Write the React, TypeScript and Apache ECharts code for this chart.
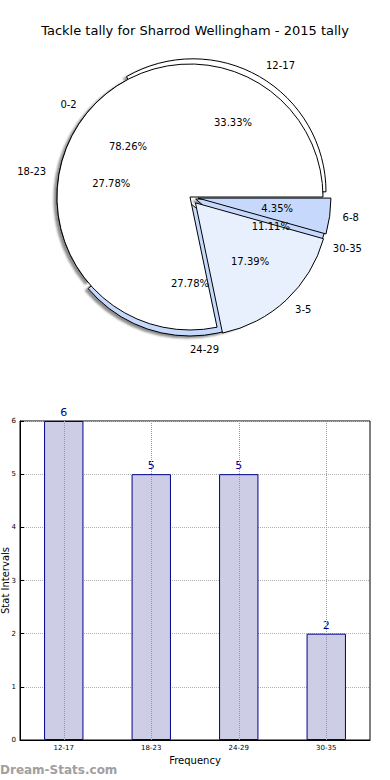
import React, { useEffect, useRef } from "react";
import * as echarts from "echarts";

const titleText = "Tackle tally for Sharrod Wellingham - 2015 tally";
const tallyCategories = ["12-17", "18-23", "24-29", "30-35"];
const tallyValues = [6, 5, 5, 2];
const tallyColors = ["#ffffff", "#ffffff", "#c6d9fd", "#c6d9fd"];
const tallyExploded = [true, false, true, true];
const lowCategories = ["0-2", "3-5", "6-8"];
const lowValues = [18, 4, 1];
const lowColors = ["#ffffff", "#e9f0fd", "#c6d9fd"];
const lowExploded = [false, true, true];
const yTicks = [0, 1, 2, 3, 4, 5, 6];

const FONT = "DejaVu Sans";
const R = 133;
const CENTER = [190, 197];

function pieData(cats: string[], vals: number[], colors: string[], sel: boolean[], visible: boolean) {
  return cats.map((c, i) => ({
    name: c,
    value: vals[i],
    selected: sel[i],
    itemStyle: visible
      ? { color: colors[i], borderColor: "#000", borderWidth: 1 }
      : { color: "transparent", borderWidth: 0 },
    select: {
      itemStyle: visible
        ? { color: colors[i], borderColor: "#000", borderWidth: 1 }
        : { color: "transparent", borderWidth: 0 },
    },
  }));
}

// matplotlib puts a wedge's name left-aligned when the wedge midpoint is on the right (x >= 0)
function alignFor(vals: number[]) {
  const total = vals.reduce((a, b) => a + b, 0);
  let cum = 0;
  return vals.map((v) => {
    const mid = ((cum + v / 2) / total) * Math.PI * 2;
    cum += v;
    return Math.cos(mid) > -1e-6 ? "left" : "right";
  });
}

function visiblePie(id: string, cats: string[], vals: number[], colors: string[], sel: boolean[], offset: number, z: number, shadow: boolean) {
  return {
    id,
    type: "pie",
    center: CENTER,
    radius: [0, R],
    startAngle: 0,
    clockwise: false,
    z,
    selectedMode: "multiple",
    selectedOffset: offset,
    avoidLabelOverlap: false,
    label: { show: false },
    labelLine: { show: false },
    emphasis: { disabled: true },
    itemStyle: shadow
      ? {
          borderColor: "#000",
          borderWidth: 1,
          shadowColor: "rgba(0,0,0,0.45)",
          shadowBlur: 2,
          shadowOffsetX: -3,
          shadowOffsetY: 2,
        }
      : { borderColor: "#000", borderWidth: 1 },
    data: pieData(cats, vals, colors, sel, true),
  };
}

function namePie(id: string, cats: string[], vals: number[], sel: boolean[], offset: number) {
  const aligns = alignFor(vals);
  return {
    id,
    type: "pie",
    center: CENTER,
    radius: [0, R],
    startAngle: 0,
    clockwise: false,
    z: 5,
    silent: true,
    selectedMode: "multiple",
    selectedOffset: offset,
    avoidLabelOverlap: false,
    emphasis: { disabled: true },
    label: {
      show: true,
      position: "outside",
      formatter: "{b}",
      color: "#000",
      fontFamily: FONT,
      fontSize: 10,
      distanceToLabelLine: 0,
    },
    labelLayout: (p: any) => ({ align: aligns[p.dataIndex] }),
    labelLine: { show: false, length: Math.round(R * 0.1), length2: 0 },
    data: pieData(cats, vals, [], sel, false),
  };
}

function pctPie(id: string, cats: string[], vals: number[], sel: boolean[], offset: number) {
  return {
    id,
    type: "pie",
    center: CENTER,
    radius: [Math.round(R * 0.2) - 6, R],
    startAngle: 0,
    clockwise: false,
    z: 5,
    silent: true,
    selectedMode: "multiple",
    selectedOffset: offset,
    avoidLabelOverlap: false,
    percentPrecision: 2,
    emphasis: { disabled: true },
    label: {
      show: true,
      position: "inside",
      formatter: "{d}%",
      color: "#000",
      fontFamily: FONT,
      fontSize: 10,
    },
    labelLine: { show: false },
    data: pieData(cats, vals, [], sel, false),
  };
}

export default function App() {
  const ref = useRef<HTMLDivElement>(null);
  useEffect(() => {
    if (!ref.current) return;
    const chart = echarts.init(ref.current, undefined, { renderer: "svg" });
    const option: any = {
      animation: false,
      backgroundColor: "#ffffff",
      textStyle: { fontFamily: FONT },
      title: {
        text: titleText,
        left: "center",
        top: 19,
        textStyle: { fontFamily: FONT, fontSize: 13, fontWeight: "normal", color: "#000" },
      },
      grid: {
        left: 20,
        right: 20,
        top: 421,
        bottom: 40,
        containLabel: false,
        outerBoundsMode: "none",
        show: true,
        borderColor: "#000",
        borderWidth: 1,
        backgroundColor: "transparent",
      },
      xAxis: {
        type: "category",
        data: tallyCategories,
        boundaryGap: true,
        name: "Frequency",
        nameLocation: "middle",
        nameGap: 15,
        nameMoveOverlap: false,
        nameTextStyle: { fontFamily: FONT, fontSize: 10, color: "#000" },
        axisLine: { lineStyle: { color: "#000" } },
        axisTick: { show: true, inside: true, alignWithLabel: true, length: 4, lineStyle: { color: "#000" } },
        axisLabel: { fontFamily: FONT, fontSize: 7, color: "#000", margin: 4 },
        splitLine: { show: false },
      },
      yAxis: {
        type: "value",
        min: yTicks[0],
        max: yTicks[yTicks.length - 1],
        interval: 1,
        name: "Stat Intervals",
        nameLocation: "middle",
        nameGap: 10,
        nameMoveOverlap: false,
        nameTextStyle: { fontFamily: FONT, fontSize: 10, color: "#000" },
        axisLine: { show: true, lineStyle: { color: "#000" } },
        axisTick: { show: true, inside: true, length: 4, lineStyle: { color: "#000" } },
        axisLabel: { fontFamily: FONT, fontSize: 7, color: "#000", margin: 4 },
        splitLine: { show: true, lineStyle: { color: "#b0b0b0", type: "dotted", width: 1 } },
      },
      graphic: [
        {
          type: "text",
          left: 0,
          top: 764,
          style: { text: "Dream-Stats.com", fill: "#a0a0a0", font: "bold 12px 'DejaVu Sans'" },
        },
      ],
      series: [
        visiblePie("tallyPie", tallyCategories, tallyValues, tallyColors, tallyExploded, 6, 1, true),
        visiblePie("lowPie", lowCategories, lowValues, lowColors, lowExploded, 8, 2, false),
        namePie("tallyNames", tallyCategories, tallyValues, tallyExploded, 6),
        namePie("lowNames", lowCategories, lowValues, lowExploded, 8),
        pctPie("tallyPct", tallyCategories, tallyValues, tallyExploded, 6),
        pctPie("lowPct", lowCategories, lowValues, lowExploded, 8),
        {
          type: "bar",
          data: tallyValues,
          barWidth: "45%",
          itemStyle: { color: "#cdcde6", borderColor: "#00008b", borderWidth: 1 },
          label: { show: true, position: "top", distance: 3, color: "#00008b", fontFamily: FONT, fontSize: 11 },
          emphasis: { disabled: true },
          markLine: {
            silent: true,
            symbol: ["none", "none"],
            label: { show: false },
            lineStyle: { color: "#999", type: "dotted", width: 1 },
            data: tallyCategories.map((c) => ({ xAxis: c })),
          },
        },
      ],
    };
    chart.setOption(option);
    return () => chart.dispose();
  }, []);
  return (
    <div
      ref={ref}
      style={{ position: "fixed", left: 0, top: 0, width: 390, height: 780, background: "#fff" }}
    />
  );
}
